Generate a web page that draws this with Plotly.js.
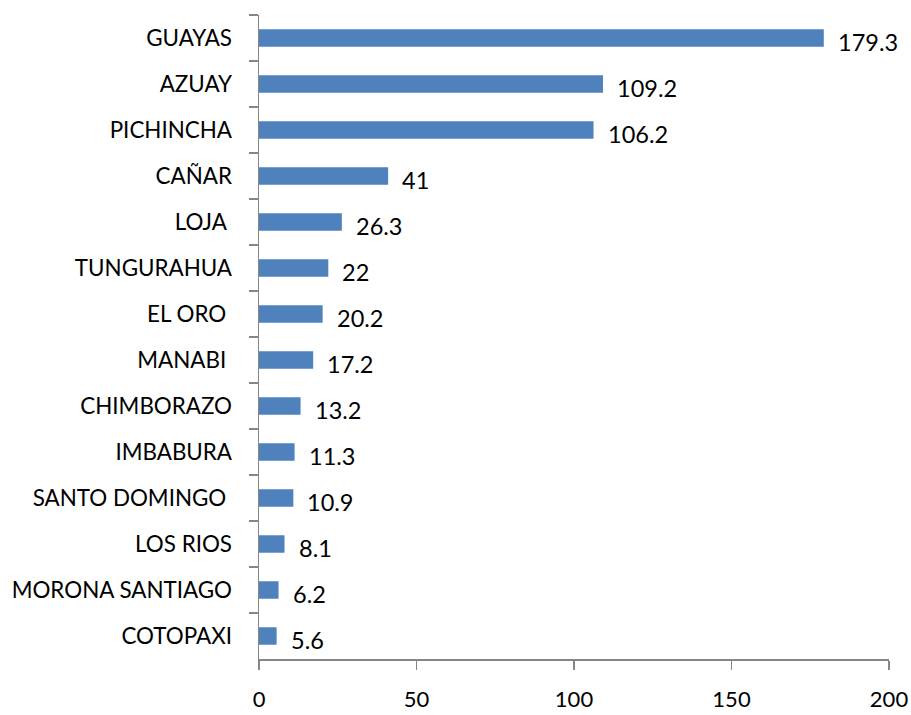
<!DOCTYPE html>
<html>
<head>
<meta charset="utf-8">
<script src="https://cdn.plot.ly/plotly-3.0.1.min.js"></script>
<style>html,body{margin:0;padding:0;background:#fff;}#chart{width:911px;height:715px;}</style>
</head>
<body>
<div id="chart"></div>
<script>
const provinces = ["GUAYAS","AZUAY","PICHINCHA","CAÑAR","LOJA\u00a0","TUNGURAHUA","EL ORO\u00a0","MANABI\u00a0","CHIMBORAZO","IMBABURA","SANTO DOMINGO\u00a0","LOS RIOS","MORONA SANTIAGO","COTOPAXI"];
const values = [179.3,109.2,106.2,41,26.3,22,20.2,17.2,13.2,11.3,10.9,8.1,6.2,5.6];
const xTicks = [0,50,100,150,200];

const FONT = "Lato, 'Open Sans', sans-serif";
const axisColor = "#868686";

const trace = {
  type: "bar",
  orientation: "h",
  x: values,
  y: provinces,
  marker: {color: "#4F81BD"},
  hoverinfo: "none"
};

const annotations = values.map((v, i) => ({
  x: v, y: provinces[i], xref: "x", yref: "y",
  text: String(v), showarrow: false,
  xanchor: "left", yanchor: "middle",
  xshift: 12, yshift: -3.5,
  font: {family: FONT, size: 23.5, color: "#000"}
}));

const layout = {
  width: 911, height: 715,
  margin: {l: 259, r: 22, t: 15, b: 56, pad: 0},
  paper_bgcolor: "#fff", plot_bgcolor: "#fff",
  showlegend: false,
  bargap: 0.62,
  font: {family: FONT, size: 22, color: "#000"},
  xaxis: {
    range: [0, 200], tickvals: xTicks, ticktext: xTicks.map(String),
    showgrid: false, zeroline: false,
    showline: true, linecolor: axisColor, linewidth: 1.5,
    ticks: "outside", ticklen: 9, tickwidth: 1.5, tickcolor: axisColor,
    ticklabelstandoff: 11,
    tickfont: {family: FONT, size: 22, color: "#000"}
  },
  yaxis: {
    type: "category", categoryorder: "array", categoryarray: provinces,
    autorange: "reversed",
    showgrid: false, zeroline: false,
    showline: true, linecolor: axisColor, linewidth: 1.5,
    ticks: "outside", tickson: "boundaries", ticklen: 9, tickwidth: 1.5, tickcolor: axisColor,
    ticklabelstandoff: 21,
    tickfont: {family: FONT, size: 22.4, color: "#000"}
  },
  annotations: annotations
};

Plotly.newPlot("chart", [trace], layout, {displayModeBar: false, staticPlot: true});
</script>
</body>
</html>
